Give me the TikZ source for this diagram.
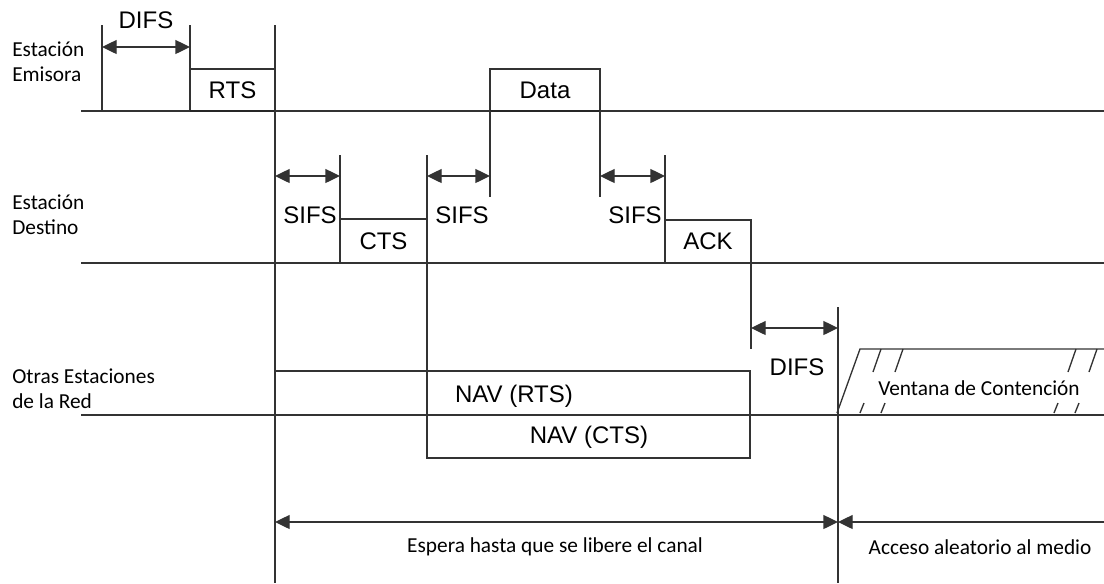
\documentclass[tikz,border=0pt]{standalone}
\usepackage{fontspec}
\setmainfont{Liberation Sans}
\newfontfamily\calfont{Carlito}
\usetikzlibrary{arrows.meta}
\begin{document}
\begin{tikzpicture}[x=0.75pt,y=-0.75pt,
  line/.style={draw=black!80, line width=1pt},
  heavy/.style={draw=black!85, line width=2pt},
  frame/.style={line, inner sep=0pt, outer sep=0pt, anchor=north west, font=\fontsize{18}{21}\selectfont},
  tag/.style={font=\fontsize{18}{21}\selectfont, inner sep=0pt},
  side/.style={font=\calfont\fontsize{16}{18.5}\selectfont, align=left, anchor=west, inner sep=0pt},
  note/.style={font=\calfont\fontsize{16}{18.5}\selectfont, inner sep=0pt},
  span/.style={line, {Triangle[length=11pt,width=10.5pt]}-{Triangle[length=11pt,width=10.5pt]}},
  lspan/.style={line, {Triangle[length=11pt,width=10.5pt]}-},
  ]
\useasboundingbox (0,0) rectangle (1104,583);

% station time lines
\coordinate (e0) at (81,111);  \coordinate (e1) at (1104,111);
\coordinate (d0) at (81,263);  \coordinate (d1) at (1104,263);
\coordinate (o0) at (81,415);  \coordinate (o1) at (1104,415);
\draw[line] (e0) -- (e1);
\draw[line] (d0) -- (d1);
\draw[line] (o0) -- (o1);

\node[side] (lblE) at (12,62) {Estación\\Emisora};
\node[side] (lblD) at (12,215) {Estación\\Destino};
\node[side] (lblO) at (12,389) {Otras Estaciones\\de la Red};

% frames
\node[frame, minimum width=85*0.75pt, minimum height=42*0.75pt] (rts) at (190,69) {RTS};
\node[frame, minimum width=110*0.75pt, minimum height=42*0.75pt] (data) at (490,69) {Data};
\node[frame, minimum width=87*0.75pt, minimum height=44*0.75pt] (cts) at (340,219) {CTS};
\node[frame, minimum width=86*0.75pt, minimum height=43*0.75pt] (ack) at (665,220) {ACK};
\node[frame, minimum width=475*0.75pt, minimum height=44*0.75pt] (navr) at (275,371) {};
\node[frame, minimum width=323*0.75pt, minimum height=43*0.75pt] (navc) at (427,415) {};
\node[tag] (navrt) at (514,396) {NAV (RTS)};
\node[tag] (navct) at (589,437) {NAV (CTS)};
\draw[heavy] (rts.south west) -- (rts.south east);
\draw[heavy] (data.south west) -- (data.south east);

% boundary markers
\coordinate (m1t) at (102,25);  \coordinate (m1b) at (102,111);
\coordinate (m2t) at (190,25);
\coordinate (m3t) at (275,25);  \coordinate (m3b) at (275,583);
\coordinate (m4b) at (490,197);
\coordinate (m5b) at (600,197);
\coordinate (m6t) at (340,155);
\coordinate (m7t) at (427,155);
\coordinate (m8t) at (665,155);
\coordinate (m9b) at (751,349);
\coordinate (m10t) at (838,307); \coordinate (m10b) at (838,583);
\draw[line] (m1t) -- (m1b);
\draw[line] (m2t) -- (rts.north west);
\draw[line] (m3t) -- (m3b);
\draw[line] (data.south west) -- (m4b);
\draw[line] (data.south east) -- (m5b);
\draw[line] (m6t) -- (cts.north west);
\draw[line] (m7t) -- (navc.north west);
\draw[line] (m8t) -- (ack.north west);
\draw[line] (ack.south east) -- (m9b);
\draw[line] (m10t) -- (m10b);

% interframe spaces
\coordinate (a1) at (102,47);  \coordinate (a2) at (190,47);
\coordinate (b1) at (275,176); \coordinate (b2) at (340,176);
\coordinate (c1) at (427,176); \coordinate (c2) at (490,176);
\coordinate (f1) at (600,176); \coordinate (f2) at (665,176);
\coordinate (g1) at (751,328); \coordinate (g2) at (838,328);
\draw[span] (a1) -- (a2);
\draw[span] (b1) -- (b2);
\draw[span] (c1) -- (c2);
\draw[span] (f1) -- (f2);
\draw[span] (g1) -- (g2);
\node[tag] (difs1) at (146,20) {DIFS};
\node[tag] (sifs1) at (310,215) {SIFS};
\node[tag] (sifs2) at (462,215) {SIFS};
\node[tag] (sifs3) at (635,215) {SIFS};
\node[tag] (difs2) at (797,367) {DIFS};

% contention window
\coordinate (w0) at (837,413); \coordinate (w1) at (860,349); \coordinate (w2) at (1104,349);
\draw[line] (w0) -- (w1) -- (w2);
\foreach \x in {881,903,1076,1097} \draw[line] (\x,349) -- (\x-8,372);
\foreach \x in {864,885,1058,1079} \draw[line] (\x,403) -- (\x-4,413);
\node[note] (win) at (979,388) {Ventana de Contención};

% waiting and access periods
\coordinate (p1) at (275,522); \coordinate (p2) at (838,522); \coordinate (p3) at (1104,522);
\draw[span] (p1) -- (p2);
\draw[lspan] (p2) -- (p3);
\node[note] (wait) at (555,547) {Espera hasta que se libere el canal};
\node[note] (acc) at (980,547) {Acceso aleatorio al medio};
\end{tikzpicture}
\end{document}
